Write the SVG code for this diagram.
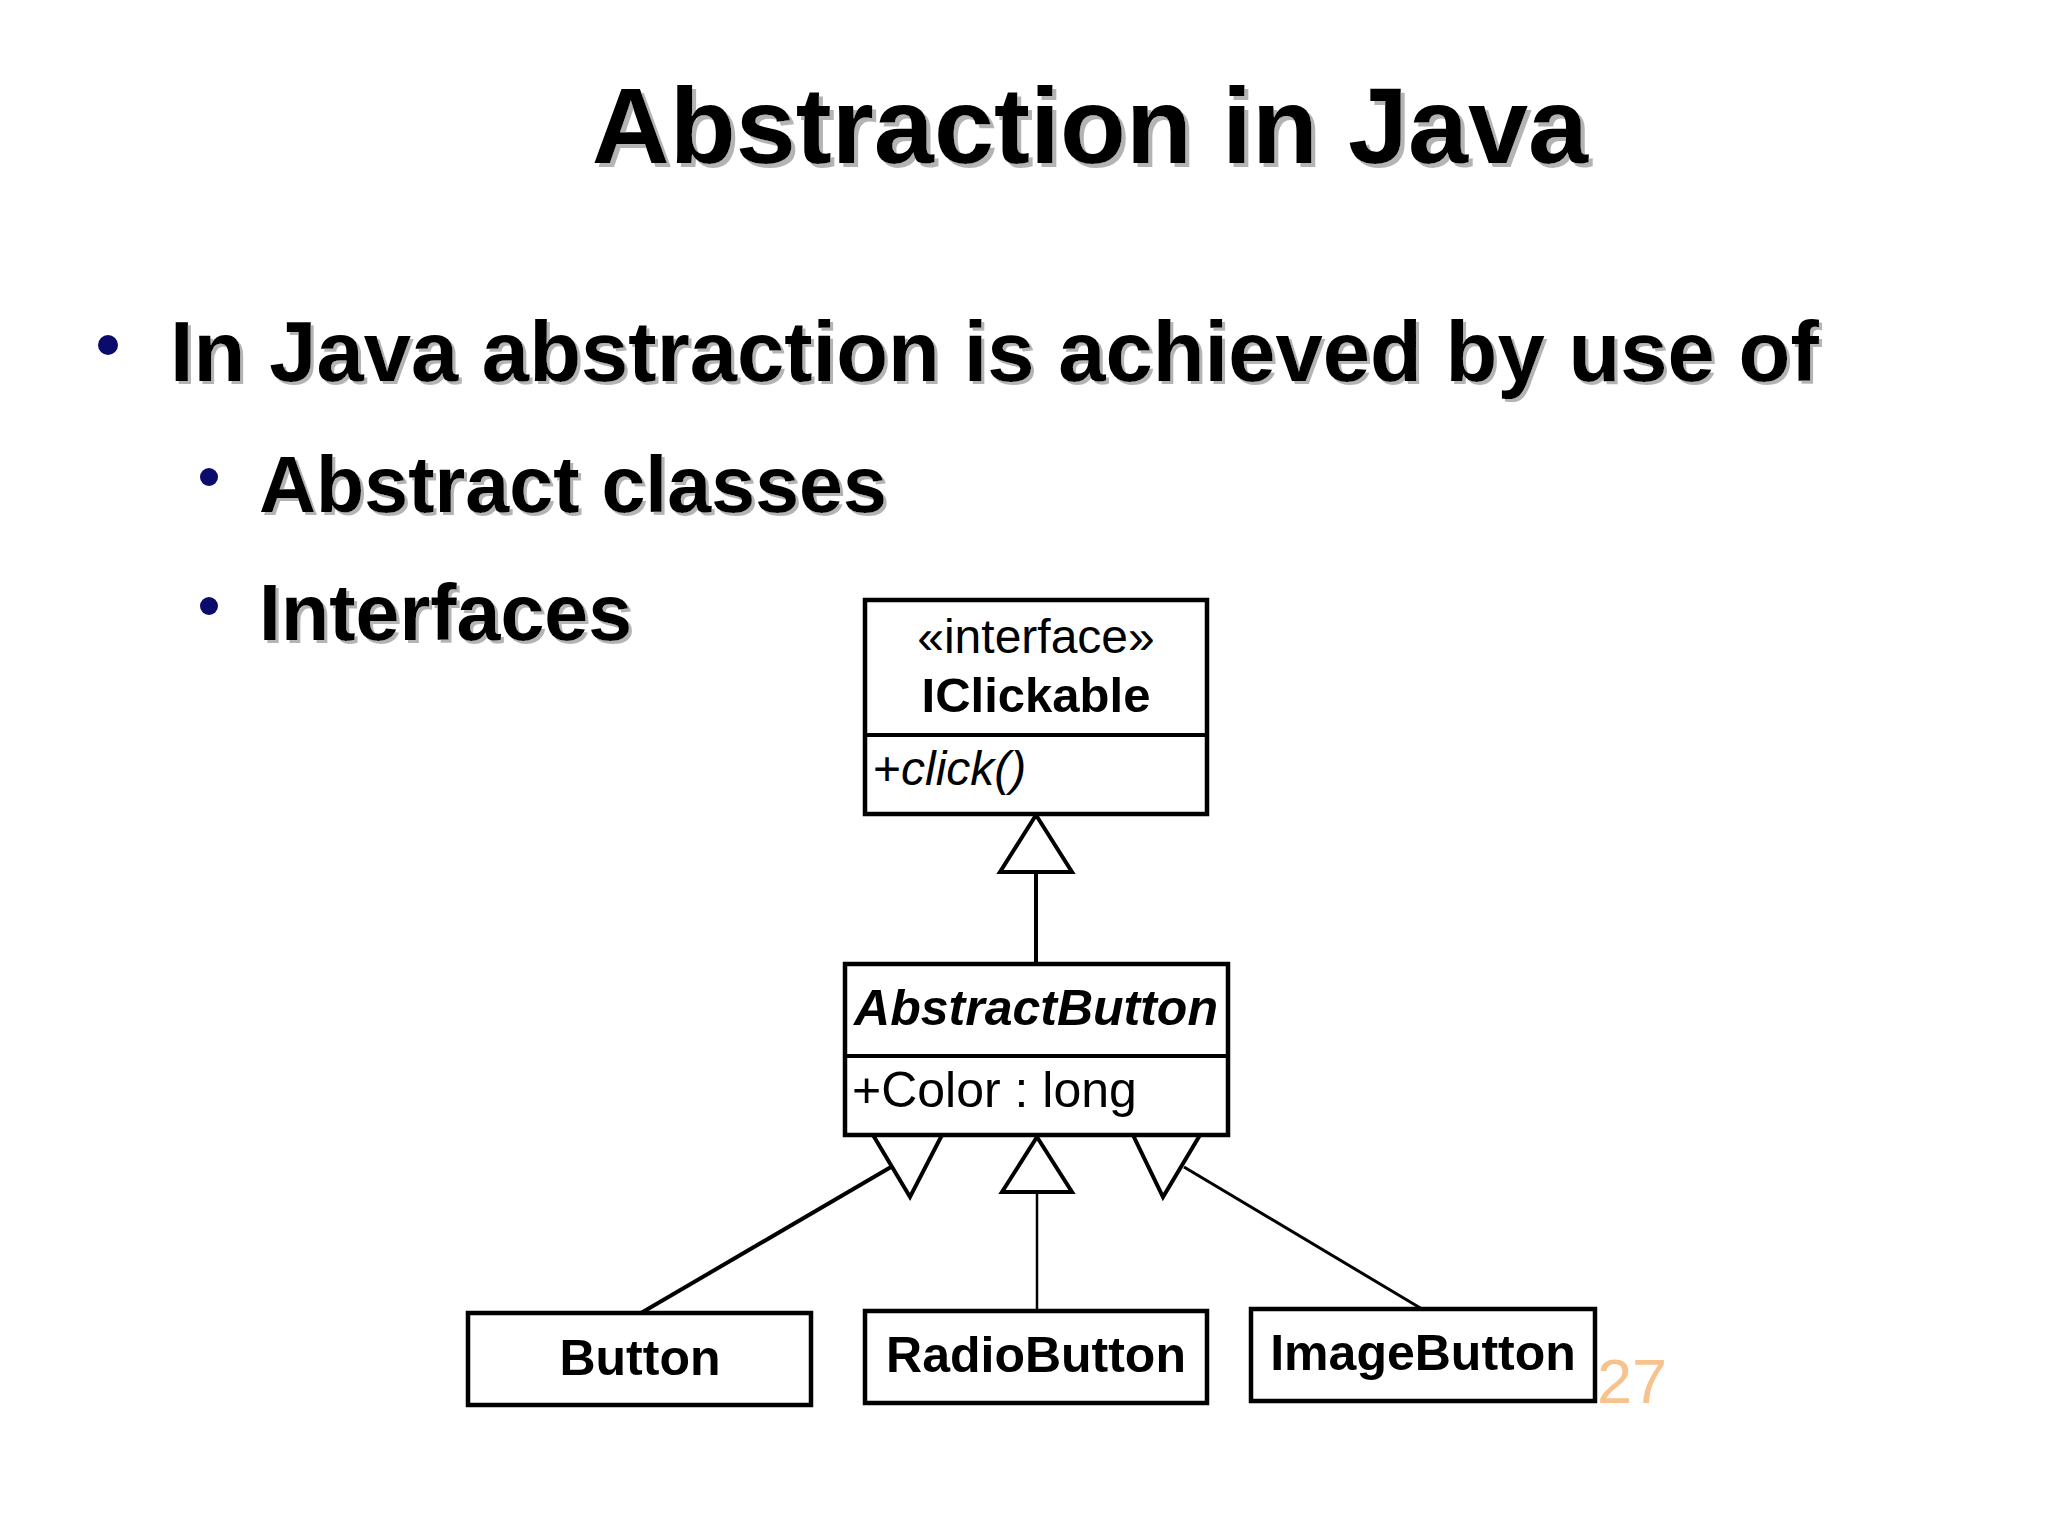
<svg xmlns="http://www.w3.org/2000/svg" width="2048" height="1536" viewBox="0 0 2048 1536">
<defs>
<filter id="shadow" x="-5%" y="-20%" width="110%" height="140%">
<feOffset in="SourceAlpha" dx="4" dy="4" result="off"/>
<feFlood flood-color="#b4b4b4"/>
<feComposite in2="off" operator="in" result="sh"/>
<feMerge><feMergeNode in="sh"/><feMergeNode in="SourceGraphic"/></feMerge>
</filter>
<filter id="shadow3" x="-5%" y="-20%" width="110%" height="140%">
<feOffset in="SourceAlpha" dx="3" dy="3" result="off"/>
<feFlood flood-color="#b4b4b4"/>
<feComposite in2="off" operator="in" result="sh"/>
<feMerge><feMergeNode in="sh"/><feMergeNode in="SourceGraphic"/></feMerge>
</filter>
</defs>
<style>
.t{font-family:"Liberation Sans",Arial,sans-serif;fill:#000}
.b{font-weight:bold}
.box{fill:#fff;stroke:#000;stroke-width:4.5}
.div{stroke:#000;stroke-width:4}
.tri{fill:#fff;stroke:#000;stroke-width:4;stroke-linejoin:miter}
.ln{stroke:#000;fill:none}
.bul{fill:#0b0b6b}
</style>
<rect width="2048" height="1536" fill="#fff"/>
<g id="title">
<text class="t b" x="1090" y="163" font-size="108" text-anchor="middle" filter="url(#shadow)">Abstraction in Java</text>
</g>
<g id="bullets">
<circle class="bul" cx="108" cy="345" r="10"/>
<text class="t b" x="170" y="381" font-size="85" filter="url(#shadow3)">In Java abstraction is achieved by use of</text>
<circle class="bul" cx="209" cy="477" r="9"/>
<text class="t b" x="259" y="512" font-size="79" filter="url(#shadow3)">Abstract classes</text>
<circle class="bul" cx="209" cy="606" r="9"/>
<text class="t b" x="259" y="640" font-size="79" filter="url(#shadow3)">Interfaces</text>
</g>
<g id="connectors">
<line class="ln" x1="1036" y1="872" x2="1036" y2="964" stroke-width="4"/>
<polygon class="tri" points="1036,815 1072,872 1000,872"/>
<line class="ln" x1="641" y1="1313" x2="891" y2="1167" stroke-width="4"/>
<polygon class="tri" points="873,1135 942,1135 910,1197"/>
<line class="ln" x1="1037" y1="1192" x2="1037" y2="1311" stroke-width="2.5"/>
<polygon class="tri" points="1037,1137 1072,1192 1002,1192"/>
<line class="ln" x1="1184" y1="1167" x2="1422" y2="1309" stroke-width="3"/>
<polygon class="tri" points="1133,1135 1200,1135 1163,1197"/>
</g>
<g id="IClickable">
<rect class="box" x="865" y="600" width="342" height="214"/>
<line class="div" x1="865" y1="735" x2="1207" y2="735"/>
<text class="t" x="1036" y="653" font-size="48" text-anchor="middle">«interface»</text>
<text class="t b" x="1036" y="712" font-size="49" text-anchor="middle">IClickable</text>
<text class="t" x="873" y="785" font-size="48">+<tspan font-style="italic">click()</tspan></text>
</g>
<g id="AbstractButton">
<rect class="box" x="845" y="964" width="383" height="171"/>
<line class="div" x1="845" y1="1056" x2="1228" y2="1056"/>
<text class="t b" x="1036" y="1025" font-size="50" font-style="italic" text-anchor="middle">AbstractButton</text>
<text class="t" x="852" y="1107" font-size="50">+Color : long</text>
</g>
<g id="Button">
<rect class="box" x="468" y="1313" width="343" height="92"/>
<text class="t b" x="640" y="1375" font-size="50" text-anchor="middle">Button</text>
</g>
<g id="RadioButton">
<rect class="box" x="865" y="1311" width="342" height="92"/>
<text class="t b" x="1036" y="1372" font-size="50" text-anchor="middle">RadioButton</text>
</g>
<g id="ImageButton">
<rect class="box" x="1251" y="1309" width="344" height="92"/>
<text class="t b" x="1423" y="1370" font-size="50" text-anchor="middle">ImageButton</text>
</g>
<g id="page">
<text class="t" x="1597" y="1403" font-size="63" style="fill:#f8c28c">27</text>
</g>
</svg>
